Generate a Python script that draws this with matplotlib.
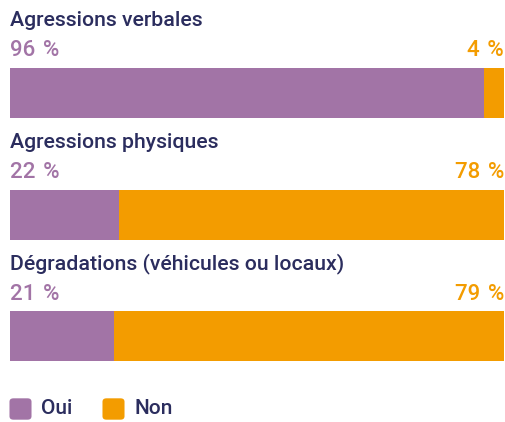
import matplotlib.pyplot as plt
from matplotlib.patches import FancyBboxPatch

categories = ["Agressions verbales", "Agressions physiques", "Dégradations (véhicules ou locaux)"]
oui = [96, 22, 21]
non = [4, 78, 79]
legend_labels = ["Oui", "Non"]

purple = "#a274a6"
orange = "#f39c00"
navy = "#2b2d5e"

plt.rcParams['font.family'] = ['Roboto', 'DejaVu Sans']

W, H = 505, 422
fig = plt.figure(figsize=(W / 100, H / 100), dpi=100)
# axes spans bar width horizontally, full height in pixel units vertically
ax = fig.add_axes([10 / W, 0, 494 / W, 1])
ax.set_xlim(0, 100)
ax.set_ylim(H, 0)
ax.axis('off')

for i, cat in enumerate(categories):
    yc = 93 + i * 121.5
    ax.barh(yc, oui[i], height=50, left=0, color=purple)
    ax.barh(yc, non[i], height=50, left=oui[i], color=orange)
    ax.text(0, yc - 72, cat, color=navy, fontsize=15.3, fontweight='medium',
            ha='left', va='center')
    ax.text(0, yc - 42, f"{oui[i]}\u2004%", color=purple, fontsize=16, fontweight='medium',
            ha='left', va='center')
    ax.text(100, yc - 42, f"{non[i]}\u2004%", color=orange, fontsize=16, fontweight='medium',
            ha='right', va='center')

# legend with rounded squares
for j, (lab, col) in enumerate(zip(legend_labels, [purple, orange])):
    x0 = 10 + j * 93
    p = FancyBboxPatch(((x0 + 1.5) / W, 1 - 418 / H), 18 / W, 18 / H,
                       boxstyle="round,pad=0.004,rounding_size=0.008",
                       transform=fig.transFigure, facecolor=col, edgecolor='none')
    fig.patches.append(p)
    fig.text((x0 + 31) / W, 1 - 409 / H, lab, color=navy, fontsize=15,
             fontweight='medium', ha='left', va='center')

fig.savefig("out.png", dpi=100)
